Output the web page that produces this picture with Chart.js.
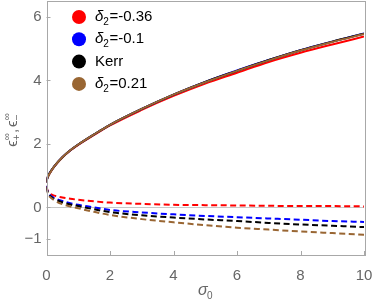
<!DOCTYPE html>
<html>
<head>
<meta charset="utf-8">
<script src="https://cdn.jsdelivr.net/npm/chart.js@4"></script>
<style>
  html, body { margin: 0; padding: 0; background: #fff; }
  canvas { display: block; }
</style>
</head>
<body>
<canvas id="chart" width="374" height="300"></canvas>
<script>
// sigma_0 sample points
const sigma = [0, 0.02, 0.05, 0.1, 0.25, 0.5, 0.75, 1, 1.5, 2, 3, 4, 5, 6, 7, 8, 9, 10];

// eps_+ (solid)
const plusRed   = [0.78, 0.9, 0.98, 1.07, 1.29, 1.57, 1.79, 1.97, 2.28, 2.58, 3.07, 3.51, 3.90, 4.24, 4.58, 4.87, 5.13, 5.38];
const plusBlue  = [0.78, 0.9, 0.98, 1.08, 1.30, 1.58, 1.80, 1.98, 2.30, 2.60, 3.10, 3.55, 3.95, 4.31, 4.64, 4.95, 5.22, 5.48];
const plusKerr  = [0.78, 0.9, 0.98, 1.08, 1.30, 1.58, 1.80, 1.98, 2.30, 2.60, 3.10, 3.55, 3.95, 4.30, 4.64, 4.95, 5.22, 5.47];
const plusBrown = [0.78, 0.9, 0.98, 1.07, 1.30, 1.58, 1.80, 1.98, 2.30, 2.60, 3.10, 3.55, 3.94, 4.30, 4.63, 4.94, 5.21, 5.46];

// eps_- (dashed)
const minusRed   = [0.68, 0.58, 0.50, 0.44, 0.37, 0.31, 0.27, 0.24, 0.19, 0.15, 0.11, 0.08, 0.07, 0.06, 0.05, 0.04, 0.04, 0.03];
const minusBlue  = [0.68, 0.56, 0.47, 0.39, 0.29, 0.20, 0.13, 0.08, 0.00, -0.08, -0.16, -0.22, -0.27, -0.31, -0.35, -0.39, -0.43, -0.46];
const minusKerr  = [0.66, 0.54, 0.45, 0.37, 0.26, 0.16, 0.09, 0.04, -0.06, -0.15, -0.25, -0.32, -0.38, -0.43, -0.49, -0.54, -0.58, -0.62];
const minusBrown = [0.64, 0.52, 0.42, 0.34, 0.22, 0.10, 0.03, -0.03, -0.14, -0.24, -0.37, -0.47, -0.56, -0.64, -0.70, -0.76, -0.81, -0.86];

const xTicks = [0, 2, 4, 6, 8, 10];
const yTicks = [-1, 0, 2, 4, 6];

// legend entries: [symbol, subscript, rest]
const legendItems = [
  ['δ', '2', '=-0.36'],
  ['δ', '2', '=-0.1'],
  ['', '', 'Kerr'],
  ['δ', '2', '=0.21']
];
const colors = ['#ff0000', '#0000ff', '#000000', '#996633'];

const pts = arr => sigma.map((s, i) => ({ x: s, y: arr[i] }));

function line(arr, color, dashed, order) {
  return {
    data: pts(arr),
    borderColor: color,
    borderWidth: 2,
    borderDash: dashed ? [6, 3.5] : [],
    pointRadius: 0,
    cubicInterpolationMode: 'monotone',
    fill: false,
    order: order
  };
}

const plusSets = [plusRed, plusBlue, plusKerr, plusBrown];
const minusSets = [minusRed, minusBlue, minusKerr, minusBrown];
const datasets = [];
plusSets.forEach((a, i) => datasets.push(line(a, colors[i], false, 4 - i)));
minusSets.forEach((a, i) => datasets.push(line(a, colors[i], true, 4 - i)));

const gray = '#666';
const frameColor = '#a8a8a8';
const font = '"Liberation Sans", Arial, sans-serif';

// frame, ticks, legend and axis titles
const decor = {
  id: 'decor',
  afterDraw(chart) {
    const ctx = chart.ctx;
    const a = chart.chartArea;
    const xs = chart.scales.x, ys = chart.scales.y;
    ctx.save();
    ctx.strokeStyle = frameColor;
    ctx.lineWidth = 1;
    ctx.strokeRect(Math.round(a.left) + 0.5, Math.round(a.top) + 0.5,
      Math.round(a.right - a.left), Math.round(a.bottom - a.top));
    ctx.beginPath();
    xTicks.forEach(v => {
      const px = Math.round(xs.getPixelForValue(v)) + 0.5;
      ctx.moveTo(px, a.bottom); ctx.lineTo(px, a.bottom - 4);
    });
    yTicks.forEach(v => {
      const py = Math.round(ys.getPixelForValue(v)) + 0.5;
      ctx.moveTo(a.left, py); ctx.lineTo(a.left + 4, py);
    });
    ctx.stroke();

    // legend
    ctx.textBaseline = 'middle';
    legendItems.forEach((it, i) => {
      const cy = 17 + i * 22.3;
      ctx.fillStyle = colors[i];
      ctx.beginPath();
      ctx.arc(79, cy, 7, 0, Math.PI * 2);
      ctx.fill();
      ctx.fillStyle = '#000';
      let x = 95;
      if (it[0]) {
        ctx.font = 'italic 15px ' + font;
        ctx.fillText(it[0], x, cy);
        x += ctx.measureText(it[0]).width;
        ctx.font = '10px ' + font;
        ctx.fillText(it[1], x, cy + 5);
        x += ctx.measureText(it[1]).width + 0.5;
      }
      ctx.font = '15px ' + font;
      ctx.fillText(it[2], x, cy);
    });

    // x title
    ctx.fillStyle = gray;
    ctx.font = 'italic 16px ' + font;
    ctx.fillText('σ', 198, 291);
    ctx.font = '10px ' + font;
    ctx.fillText('0', 207, 296);

    // y title
    ctx.translate(13, 130);
    ctx.rotate(-Math.PI / 2);
    const parts = [
      ['ϵ', 15, 0, true], ['+', 10, 4, false, '∞'],
      [',', 15, 0, true], ['ϵ', 15, 0, true], ['−', 10, 4, false, '∞']
    ];
    let w = 0;
    parts.forEach(p => {
      ctx.font = p[1] + 'px ' + font;
      p.w = Math.max(ctx.measureText(p[0]).width, p[4] ? ctx.measureText(p[4]).width : 0);
      w += p.w + (p[0] === ',' ? 2 : 0);
    });
    let x = -w / 2;
    parts.forEach(p => {
      ctx.font = p[1] + 'px ' + font;
      ctx.fillText(p[0], x, p[2]);
      if (p[4]) ctx.fillText(p[4], x, -6);
      x += p.w + (p[0] === ',' ? 2 : 0);
    });
    ctx.restore();
  }
};

new Chart('chart', {
  type: 'line',
  data: { datasets: datasets },
  options: {
    responsive: false,
    animation: false,
    layout: { padding: { top: 1, right: 10, left: 0, bottom: 0 } },
    plugins: { legend: { display: false }, tooltip: { enabled: false } },
    scales: {
      x: {
        type: 'linear',
        min: 0,
        max: 10,
        afterBuildTicks: s => { s.ticks = xTicks.map(v => ({ value: v })); },
        afterFit: s => { s.height = 45; s.paddingLeft = 0; s.paddingRight = 0; },
        grid: { display: false },
        border: { display: false },
        ticks: { color: gray, font: { family: font, size: 15 }, padding: 4, maxRotation: 0 }
      },
      y: {
        min: -1.5,
        max: 6.5,
        afterBuildTicks: s => { s.ticks = yTicks.map(v => ({ value: v })); },
        afterFit: s => { s.width = 46.5; s.paddingTop = 0; s.paddingBottom = 0; },
        grid: {
          drawTicks: false,
          color: c => (c.tick && c.tick.value === 0 ? '#c8c8c8' : 'rgba(0,0,0,0)')
        },
        border: { display: false },
        ticks: {
          color: gray,
          font: { family: font, size: 15 },
          padding: 5,
          callback: v => (v < 0 ? '−' + Math.abs(v) : String(v))
        }
      }
    }
  },
  plugins: [decor]
});
</script>
</body>
</html>
